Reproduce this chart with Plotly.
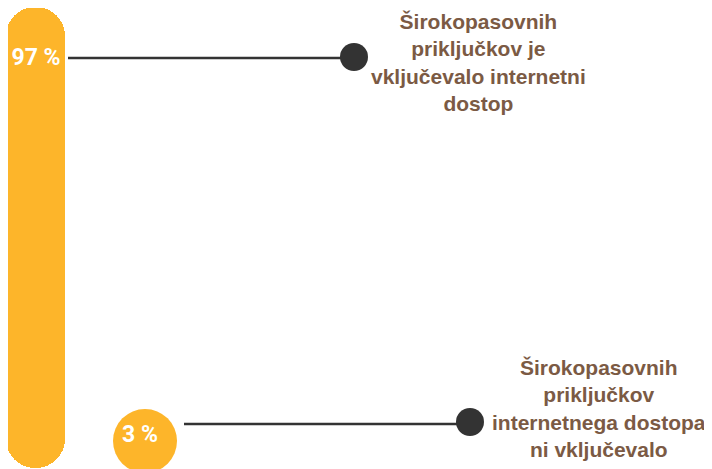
import plotly.graph_objects as go

# ---- data ----
percent_values = [97, 3]
percent_labels = ["97 %", "3 %"]
descriptions = [
    "Širokopasovnih<br>priključkov je<br>vključevalo internetni<br>dostop",
    "Širokopasovnih<br>priključkov<br>internetnega dostopa<br>ni vključevalo",
]

YELLOW = "#FDB52A"
BROWN = "#7B5A44"
DARK = "#333333"

W, H = 712, 469
OFF = 8  # page body margin offset
# vertical scale: 97 units span screen pixels 468 -> 7
s = (468 - 7) / percent_values[0]
def py(pix):  # screen pixel row -> data y
    return (468 - pix) / s

fig = go.Figure()

big = percent_values[0]
fig.add_trace(go.Bar(x=[35.5], y=[big], base=[0], width=59,
                     marker=dict(color=YELLOW, line=dict(width=0), cornerradius=30),
                     hoverinfo="skip", showlegend=False))

# small circle for 3 %
fig.add_trace(go.Scatter(x=[145], y=[py(441)], mode="markers",
                         marker=dict(size=64, color=YELLOW, line=dict(width=0)),
                         hoverinfo="skip", showlegend=False))

# leader lines
fig.add_trace(go.Scatter(x=[68, 354], y=[py(58), py(58)], mode="lines",
                         line=dict(color=DARK, width=2.5), hoverinfo="skip", showlegend=False))
fig.add_trace(go.Scatter(x=[184, 470], y=[py(424), py(424)], mode="lines",
                         line=dict(color=DARK, width=2.5), hoverinfo="skip", showlegend=False))
# dots
fig.add_trace(go.Scatter(x=[354, 470], y=[py(57), py(422)], mode="markers",
                         marker=dict(size=28, color=DARK, line=dict(width=0)),
                         hoverinfo="skip", showlegend=False))

# percent labels
fig.add_trace(go.Scatter(x=[36, 140], y=[py(59), py(436)], mode="text",
                         text=percent_labels,
                         textfont=dict(family="Roboto, sans-serif",
                                       size=23, color="white", weight="bold"),
                         hoverinfo="skip", showlegend=False))

# descriptions
fig.add_annotation(x=478, y=py(62), text=descriptions[0], showarrow=False,
                   xanchor="center", yanchor="middle", align="center",
                   font=dict(family="Liberation Sans, Arial, sans-serif", size=21,
                             color=BROWN, weight="bold"))
fig.add_annotation(x=599, y=py(408), text=descriptions[1], showarrow=False,
                   xanchor="center", yanchor="middle", align="center",
                   font=dict(family="Liberation Sans, Arial, sans-serif", size=21,
                             color=BROWN, weight="bold"))

fig.update_layout(
    width=W, height=H,
    margin=dict(l=0, r=0, t=0, b=0),
    paper_bgcolor="white", plot_bgcolor="white",
    barmode="overlay", bargap=0,
    xaxis=dict(range=[OFF, W + OFF], visible=False, fixedrange=True),
    yaxis=dict(range=[py(H + OFF), py(OFF)], visible=False, fixedrange=True),
)

fig.write_html("out.html")
